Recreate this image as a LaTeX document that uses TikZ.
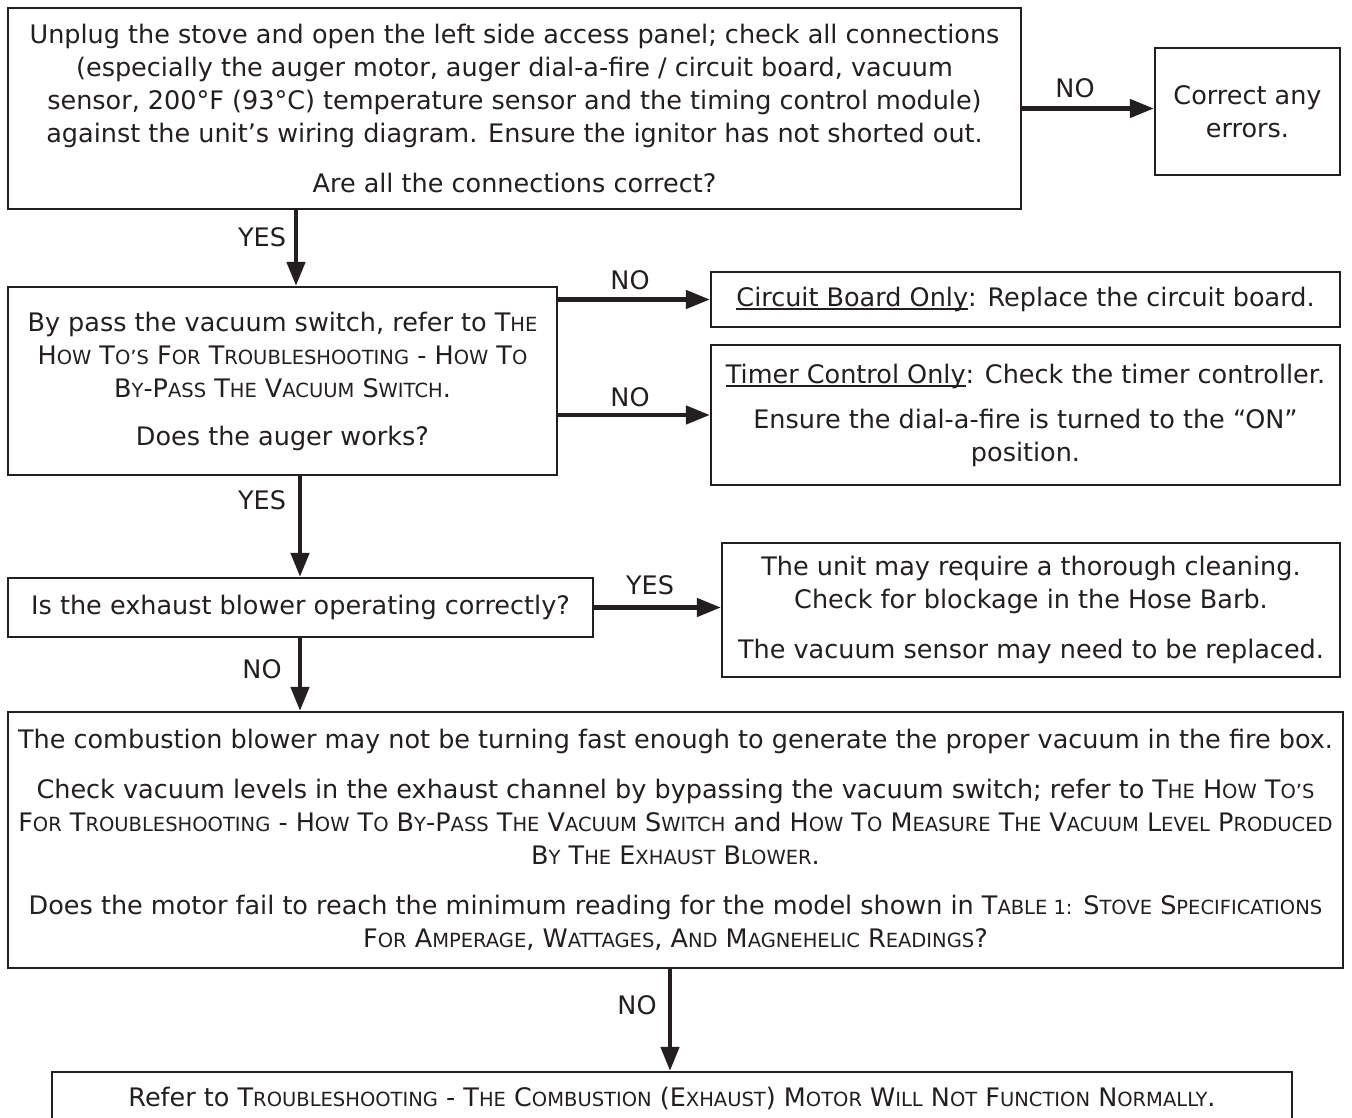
\documentclass[tikz,border=0pt]{standalone}
\usepackage{fontspec}
\setmainfont{DejaVu Sans}
\usetikzlibrary{arrows.meta}
\definecolor{ink}{HTML}{231F20}
\newcommand\sca[1]{{\fontsize{19.5pt}{33pt}\selectfont #1}}
\newcommand\ulx[1]{\setbox0\hbox{#1}\rlap{\rule[-3.5pt]{\wd0}{1.6pt}}\box0}
\begin{document}
\begin{tikzpicture}[x=1pt,y=-1pt,
  box/.style={draw=ink, line width=2.2pt, rectangle, inner sep=0pt, align=center, text=ink, font=\fontsize{25.5pt}{33pt}\selectfont},
  lbl/.style={text=ink, font=\fontsize{25.5pt}{30pt}\selectfont, inner sep=0pt},
  arr/.style={draw=ink, line width=4.5pt, -{Triangle[length=24pt,width=18pt]}}]
\fill[white] (0,0) rectangle (1352,1118);
\useasboundingbox (0,0) rectangle (1352,1118);
\clip (0,0) rectangle (1352,1118);

\node[box, minimum width=1013pt, minimum height=201pt] (b1) at (514.5,108.5)
 {Unplug the stove and open the left side access panel; check all connections\\
  (especially the auger motor, auger dial-a-fire / circuit board, vacuum\\
  sensor, 200°F (93°C) temperature sensor and the timing control module)\\
  against the unit’s wiring diagram. Ensure the ignitor has not shorted out.\\[17pt]
  Are all the connections correct?};

\node[box, minimum width=185pt, minimum height=127pt] (corr) at (1247.5,111.5)
 {Correct any\\ errors.};

\node[box, minimum width=549pt, minimum height=188pt] (b2) at (282.5,381)
 {By pass the vacuum switch, refer to T\sca{HE}\\
  H\sca{OW} T\sca{O’S} F\sca{OR} T\sca{ROUBLESHOOTING} - H\sca{OW} T\sca{O}\\
  B\sca{Y}-P\sca{ASS} T\sca{HE} V\sca{ACUUM} S\sca{WITCH}.\\[15pt]
  Does the auger works?};

\node[box, minimum width=629pt, minimum height=55pt] (b3) at (1025.5,299.5)
 {\ulx{Circuit Board Only}: Replace the circuit board.};

\node[box, minimum width=629pt, minimum height=140pt] (b4) at (1025.5,415)
 {\ulx{Timer Control Only}: Check the timer controller.\\[12pt]
  Ensure the dial-a-fire is turned to the “ON”\\ position.};

\node[box, minimum width=585pt, minimum height=59pt] (b5) at (300.5,607.5)
 {Is the exhaust blower operating correctly?};

\node[box, minimum width=618pt, minimum height=134pt] (b6) at (1031,610)
 {The unit may require a thorough cleaning.\\
  Check for blockage in the Hose Barb.\\[17pt]
  The vacuum sensor may need to be replaced.};

\node[box, minimum width=1335pt, minimum height=256pt] (b7) at (675.5,840)
 {The combustion blower may not be turning fast enough to generate the proper vacuum in the fire box.\\[17pt]
  Check vacuum levels in the exhaust channel by bypassing the vacuum switch; refer to T\sca{HE} H\sca{OW} T\sca{O’S}\\
  F\sca{OR} T\sca{ROUBLESHOOTING} - H\sca{OW} T\sca{O} B\sca{Y}-P\sca{ASS} T\sca{HE} V\sca{ACUUM} S\sca{WITCH} and H\sca{OW} T\sca{O} M\sca{EASURE} T\sca{HE} V\sca{ACUUM} L\sca{EVEL} P\sca{RODUCED}\\
  B\sca{Y} T\sca{HE} E\sca{XHAUST} B\sca{LOWER}.\\[17pt]
  Does the motor fail to reach the minimum reading for the model shown in T\sca{ABLE 1:} S\sca{TOVE} S\sca{PECIFICATIONS}\\
  F\sca{OR} A\sca{MPERAGE}, W\sca{ATTAGES}, A\sca{ND} M\sca{AGNEHELIC} R\sca{EADINGS}?};

\node[box, minimum width=1240pt, minimum height=52pt] (b8) at (672,1098)
 {Refer to T\sca{ROUBLESHOOTING} - T\sca{HE} C\sca{OMBUSTION} (E\sca{XHAUST}) M\sca{OTOR} W\sca{ILL} N\sca{OT} F\sca{UNCTION} N\sca{ORMALLY}.};

\node[lbl] (l1) at (1075,88) {NO};
\node[lbl] (l2) at (630,280) {NO};
\node[lbl] (l3) at (630,397) {NO};
\node[lbl] (l4) at (650,585) {YES};
\node[lbl] (l5) at (262,237) {YES};
\node[lbl] (l6) at (262,500) {YES};
\node[lbl] (l7) at (262,669) {NO};
\node[lbl] (l8) at (637,1005) {NO};

\coordinate (v1) at (296,0);
\coordinate (v2) at (300,0);
\coordinate (v4) at (670,0);

\draw[arr] (b1.east) -- (b1.east -| corr.west);
\draw[arr] (b3.west -| b2.east) -- (b3.west);
\draw[arr] (b4.west -| b2.east) -- (b4.west);
\draw[arr] (b5.east) -- (b5.east -| b6.west);
\draw[arr] (b1.south -| v1) -- (b2.north -| v1);
\draw[arr] (b2.south -| v2) -- (b5.north -| v2);
\draw[arr] (b5.south -| v2) -- (b7.north -| v2);
\draw[arr] (b7.south -| v4) -- (b8.north -| v4);
\end{tikzpicture}
\end{document}
